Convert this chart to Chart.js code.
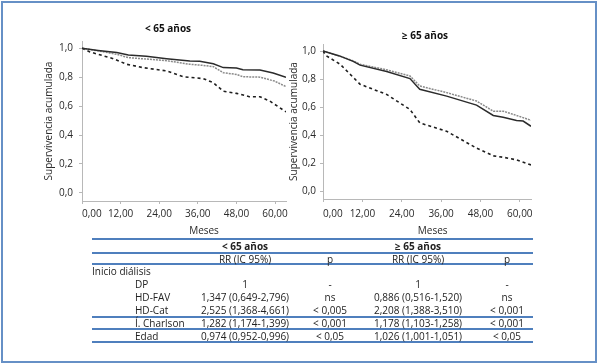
<!DOCTYPE html>
<html>
<head>
<meta charset="utf-8">
<script src="https://cdn.jsdelivr.net/npm/chart.js@4.4.1/dist/chart.umd.min.js"></script>
<style>
  body { margin: 0; background: #fff; font-family: "Open Sans", sans-serif; color: #222; }
  #frame { position: absolute; left: 1px; top: 1px; width: 596px; height: 362px; box-sizing: border-box; border: 2px solid #6690c6; }
  canvas { position: absolute; }
  #young { left: 30px; top: 15px; }
  #old { left: 284px; top: 15px; }
  .rule { position: absolute; left: 92px; width: 441px; height: 2px; background: #4f7fbd; }
  .cell { position: absolute; font-size: 10px; line-height: 12px; white-space: nowrap; }
  .mid { width: 130px; text-align: center; }
</style>
</head>
<body>
<div id="frame"></div>
<canvas id="young" width="276" height="225"></canvas>
<canvas id="old" width="282" height="225"></canvas>
<div id="table"></div>

<script>
// axis ticks (the last month tick is the axis end, left unlabeled)
const monthTicks = [0, 12, 24, 36, 48, 60, 63.4];
const survTicks = [0, 0.2, 0.4, 0.6, 0.8, 1.0];

// < 65 años : DP (solid), HD-FAV (dotted), HD-Cat (dashed)
const youngDpMonths  = [0, 5, 10.8, 14.4, 20, 26.3, 33.5, 36.6, 40.8, 43.9, 48, 50, 55.3, 59.4, 63.4];
const youngDpSurv    = [1, 0.985, 0.970, 0.953, 0.945, 0.928, 0.912, 0.910, 0.893, 0.866, 0.864, 0.852, 0.850, 0.829, 0.800];
const youngFavMonths = [0, 5, 10.8, 14.4, 26.3, 33.5, 37.5, 40.8, 43.9, 48, 50, 55.3, 59.8, 63.4];
const youngFavSurv   = [1, 0.982, 0.958, 0.935, 0.914, 0.889, 0.882, 0.873, 0.831, 0.819, 0.803, 0.800, 0.773, 0.735];
const youngCatMonths = [0, 2.5, 9.7, 13.9, 19, 26.3, 31.5, 37.7, 40.8, 43.9, 48, 52, 55.3, 58.4, 63.4];
const youngCatSurv   = [1, 0.974, 0.928, 0.889, 0.866, 0.843, 0.803, 0.790, 0.762, 0.703, 0.688, 0.665, 0.665, 0.634, 0.560];

// >= 65 años
const oldDpMonths  = [0, 5, 9.2, 11.3, 19.4, 26.5, 29.5, 37.7, 46.8, 51.9, 54.9, 59, 61, 63.4];
const oldDpSurv    = [1, 0.965, 0.926, 0.899, 0.854, 0.803, 0.727, 0.678, 0.614, 0.540, 0.527, 0.504, 0.500, 0.463];
const oldFavMonths = [0, 5, 9.2, 11.3, 19.4, 26.5, 29.5, 37.7, 46.8, 51.9, 54.9, 59, 63.4];
const oldFavSurv   = [1, 0.965, 0.930, 0.905, 0.866, 0.822, 0.750, 0.703, 0.643, 0.571, 0.571, 0.540, 0.506];
const oldCatMonths = [0, 1, 5.2, 11.3, 19.4, 26.5, 29.5, 37.7, 46.8, 51.9, 54.9, 59, 63.4];
const oldCatSurv   = [1, 0.966, 0.906, 0.763, 0.690, 0.583, 0.487, 0.427, 0.307, 0.252, 0.242, 0.223, 0.187];

// table
const rowLabels = ["DP", "HD-FAV", "HD-Cat", "Í. Charlson", "Edad"];
const youngRR = ["1", "1,347 (0,649-2,796)", "2,525 (1,368-4,661)", "1,282 (1,174-1,399)", "0,974 (0,952-0,996)"];
const youngP  = ["-", "ns", "< 0,005", "< 0,001", "< 0,05"];
const oldRR   = ["1", "0,886 (0,516-1,520)", "2,208 (1,388-3,510)", "1,178 (1,103-1,258)", "1,026 (1,001-1,051)"];
const oldP    = ["-", "ns", "< 0,001", "< 0,001", "< 0,05"];

const FONT = "'Open Sans', sans-serif";
const TEXT = "#2a2a2a";
const AXIS = "#b8b8b8";

function series(months, surv, color, dash, width) {
    return {
        data: months.map((m, i) => ({ x: m, y: surv[i] })),
        borderColor: color,
        borderDash: dash,
        borderWidth: width,
        fill: false,
        tension: 0,
        pointRadius: 0
    };
}

function drawChart(id, title, datasets, s) {
    const config = {
        type: 'line',
        data: { datasets: datasets },
        options: {
            responsive: false,
            animation: false,
            plugins: {
                legend: { display: false },
                tooltip: { enabled: false },
                title: {
                    display: true,
                    text: title,
                    color: "#111",
                    font: { family: FONT, size: 10, weight: 'bold' },
                    padding: s.titlePad
                }
            },
            scales: {
                x: {
                    type: 'linear',
                    min: 0,
                    max: 63.4,
                    afterBuildTicks: a => { a.ticks = monthTicks.map(v => ({ value: v })); },
                    afterFit: a => { a.height = s.xHeight; },
                    ticks: {
                        callback: v => v > 60 ? '' : v.toFixed(2).replace('.', ','),
                        color: TEXT,
                        font: { family: FONT, size: 10 },
                        padding: s.xTickPad,
                        align: 'inner',
                        maxRotation: 0,
                        autoSkip: false
                    },
                    grid: {
                        drawOnChartArea: false,
                        tickLength: 3,
                        color: c => (c.tick && c.tick.value > 60) ? 'rgba(0,0,0,0)' : AXIS
                    },
                    border: { color: AXIS },
                    title: {
                        display: true,
                        text: s.xTitle,
                        color: TEXT,
                        font: { family: FONT, size: 10 },
                        padding: { top: 0, bottom: 3 }
                    }
                },
                y: {
                    min: -0.056,
                    max: 1.05,
                    afterBuildTicks: a => { a.ticks = survTicks.map(v => ({ value: v })); },
                    afterFit: a => { a.width = s.yWidth; },
                    ticks: {
                        callback: v => v.toFixed(1).replace('.', ','),
                        color: TEXT,
                        font: { family: FONT, size: 10 },
                        padding: s.yTickPad
                    },
                    grid: { drawOnChartArea: false, tickLength: 3, color: AXIS },
                    border: { color: AXIS },
                    title: {
                        display: true,
                        text: 'Supervivencia acumulada',
                        color: TEXT,
                        font: { family: FONT, size: 10 },
                        padding: { top: s.yTitlePad, bottom: 0 }
                    }
                },
                // empty right-hand strip so the title centres over the whole panel
                side: {
                    position: 'right',
                    display: true,
                    afterFit: a => { a.width = s.sideWidth; },
                    ticks: { display: false },
                    grid: { display: false },
                    border: { display: false }
                }
            }
        }
    };
    new Chart(document.getElementById(id), config);
}

drawChart("young", "< 65 años", [
    series(youngDpMonths, youngDpSurv, "#2b2b2b", [], 1.5),
    series(youngFavMonths, youngFavSurv, "#8a8a8a", [2, 1], 1.5),
    series(youngCatMonths, youngCatSurv, "#1e1e1e", [3, 3], 1.6)
], { sideWidth: 20, titlePad: { top: 8, bottom: 6 }, xHeight: 39, yWidth: 52, xTickPad: 4, yTickPad: 6, yTitlePad: 13,
     xTitle: "\u2007\u2007\u2007\u2007\u2007\u2007\u2007Meses" });

drawChart("old", "≥ 65 años", [
    series(oldDpMonths, oldDpSurv, "#2b2b2b", [], 1.5),
    series(oldFavMonths, oldFavSurv, "#8a8a8a", [2, 1], 1.5),
    series(oldCatMonths, oldCatSurv, "#1e1e1e", [3, 3], 1.6)
], { sideWidth: 35, titlePad: { top: 15, bottom: 2 }, xHeight: 41, yWidth: 39, xTickPad: 6, yTickPad: 4, yTitlePad: 4,
     xTitle: "\u2007\u2007Meses" });

// table below the charts
const table = document.getElementById("table");
function rule(y) {
    const d = document.createElement("div");
    d.className = "rule";
    d.style.top = (y - 1) + "px";
    table.appendChild(d);
}
function cell(text, x, y, centered, bold) {
    const d = document.createElement("div");
    d.className = "cell" + (centered ? " mid" : "");
    d.textContent = text;
    d.style.left = (centered ? x - 65 : x) + "px";
    d.style.top = (y - 6) + "px";
    if (bold) d.style.fontWeight = "bold";
    table.appendChild(d);
}
[239, 253, 264, 317, 329, 342].forEach(rule);

const colX = [135, 245, 330, 418, 507];
const rowY = [284, 297, 310, 323, 335.5];
cell("< 65 años", colX[1], 246, true, true);
cell("≥ 65 años", colX[3], 246, true, true);
cell("RR (IC 95%)", colX[1], 258.5, true);
cell("p", colX[2], 258.5, true);
cell("RR (IC 95%)", colX[3], 258.5, true);
cell("p", colX[4], 258.5, true);
cell("Inicio diálisis", 92, 271, false);
rowLabels.forEach((lab, i) => {
    cell(lab, colX[0], rowY[i], false);
    cell(youngRR[i], colX[1], rowY[i], true);
    cell(youngP[i], colX[2], rowY[i], true);
    cell(oldRR[i], colX[3], rowY[i], true);
    cell(oldP[i], colX[4], rowY[i], true);
});
</script>
</body>
</html>
